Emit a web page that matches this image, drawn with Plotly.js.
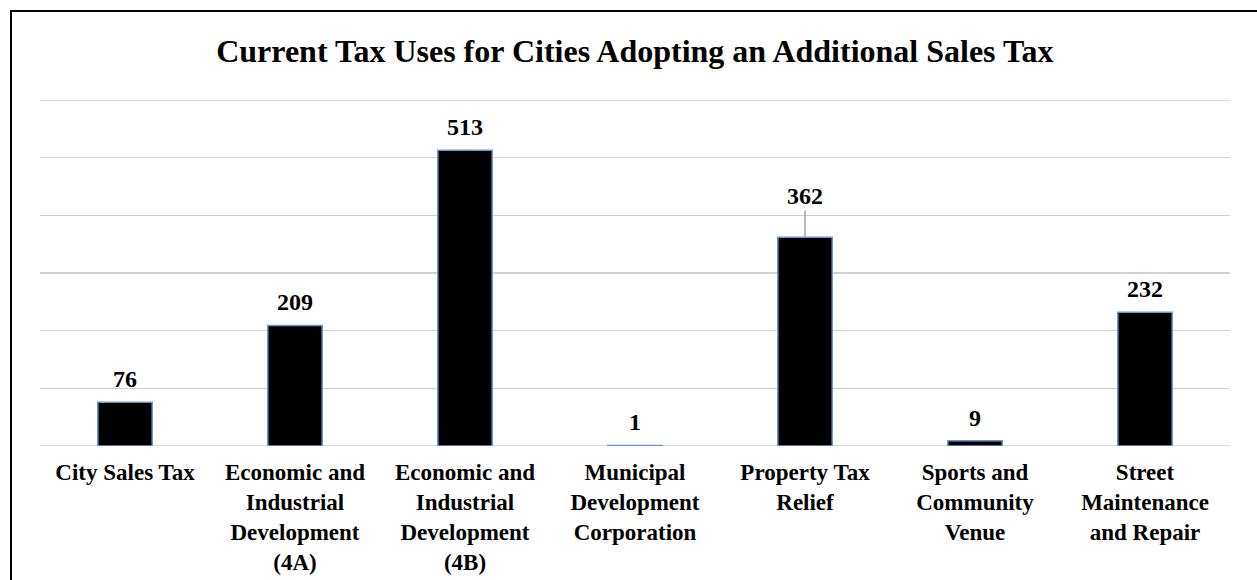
<!DOCTYPE html>
<html>
<head>
<meta charset="utf-8">
<script src="https://cdn.plot.ly/plotly-3.0.1.min.js"></script>
<style>
  html, body { margin: 0; padding: 0; background: #fff; overflow: hidden; }
  #frame { position: absolute; left: 10px; top: 10px; width: 1400px; height: 800px; border: 2px solid #000; background: #fff; }
  #chart { position: absolute; left: 0; top: 0; width: 1257px; height: 580px; }
</style>
</head>
<body>
<div id="frame"></div>
<div id="chart"></div>
<script>
const categories = [
  "City Sales Tax",
  "Economic and<br>Industrial<br>Development<br>(4A)",
  "Economic and<br>Industrial<br>Development<br>(4B)",
  "Municipal<br>Development<br>Corporation",
  "Property Tax<br>Relief",
  "Sports and<br>Community<br>Venue",
  "Street<br>Maintenance<br>and Repair"
];
const values = [76, 209, 513, 1, 362, 9, 232];
const axisMin = 0;
const axisMax = 600;
const titleText = "Current Tax Uses for Cities Adopting an Additional Sales Tax";

const font = "Liberation Serif, Times New Roman, serif";

const tickText = categories.map(c => '<b>' + c.split('<br>').join('</b><br><b>') + '</b>');

const annotations = categories.map((c, i) => {
  const leader = values[i] === 362;
  return leader ? {
    x: c, y: values[i], xref: 'x', yref: 'y',
    text: '<b>' + values[i] + '</b>',
    showarrow: true, arrowhead: 0, arrowwidth: 1.5, arrowcolor: '#a6a6a6',
    ax: 0, ay: -41, standoff: 0,
    font: {family: font, size: 24, color: '#000'}
  } : {
    x: c, y: values[i], xref: 'x', yref: 'y',
    text: '<b>' + values[i] + '</b>',
    showarrow: false, yanchor: 'bottom', yshift: 8,
    font: {family: font, size: 24, color: '#000'}
  };
});

const edgeLines = [axisMin, axisMax].map(v => ({
  type: 'line', xref: 'paper', yref: 'y', x0: 0, x1: 1, y0: v, y1: v,
  line: {color: '#d0d0d0', width: 1.5}, layer: 'below'
}));

const data = [{
  type: 'bar',
  x: categories,
  y: values,
  marker: {color: '#000000', line: {color: '#6a95cf', width: 1.5}},
  hoverinfo: 'none'
}];

const layout = {
  width: 1257, height: 580,
  margin: {l: 40, r: 27, t: 100, b: 134},
  paper_bgcolor: 'rgba(0,0,0,0)',
  plot_bgcolor: 'rgba(0,0,0,0)',
  bargap: 0.68,
  showlegend: false,
  title: {
    text: '<b>' + titleText + '</b>',
    font: {family: font, size: 32, color: '#000'},
    x: 0.505, xanchor: 'center', y: 0.912, yanchor: 'middle', xref: 'container', yref: 'container'
  },
  xaxis: {
    type: 'category',
    tickmode: 'array', tickvals: categories, ticktext: tickText,
    tickfont: {family: font, size: 23, color: '#000'},
    ticklabelstandoff: 10,
    showgrid: false, zeroline: false, showline: false, ticks: '',
    automargin: false
  },
  yaxis: {
    range: [axisMin, axisMax], dtick: 100, tick0: 0,
    showticklabels: false, showgrid: true, gridcolor: '#d0d0d0', gridwidth: 1.5,
    zeroline: false, showline: false, ticks: '', automargin: false
  },
  shapes: edgeLines,
  annotations: annotations
};

Plotly.newPlot('chart', data, layout, {displayModeBar: false, staticPlot: true});
</script>
</body>
</html>
